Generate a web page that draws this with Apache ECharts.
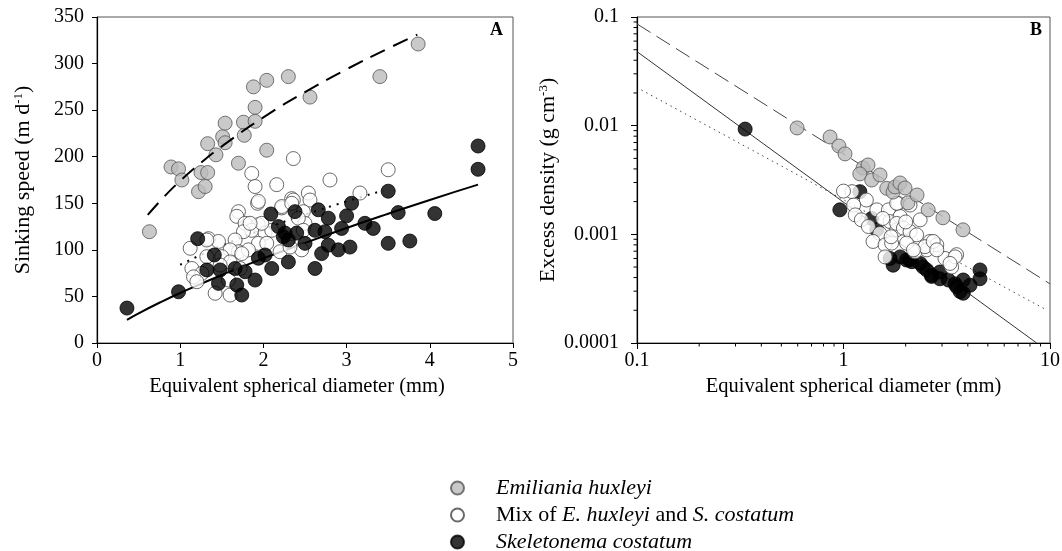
<!DOCTYPE html>
<html><head><meta charset="utf-8">
<script src="https://cdn.jsdelivr.net/npm/echarts@6/dist/echarts.min.js"></script>
<style>html,body{margin:0;padding:0;background:#fff}#c{width:1062px;height:551px}</style>
</head><body><div id="c"></div>
<script>
// ---------- DATA ----------
const seriesNames = ['Emiliania huxleyi', 'Mix of E. huxleyi and S. costatum', 'Skeletonema costatum'];

// Panel A: ESD (mm) vs sinking speed (m d-1)
const ehuxA = [[0.63,119.5],[0.89,189],[0.98,187],[1.02,175],[1.22,162.5],[1.30,168],[1.25,183],[1.33,183],[1.33,214],[1.43,202],[1.51,221.5],[1.54,215],[1.54,236],[1.70,193],[1.76,237],[1.77,223],[1.88,275],[1.90,253],[1.90,238],[2.04,282],[2.04,207],[2.30,286],[2.56,264],[3.40,286],[3.86,321]];
const mixA = [[1.86,182],[1.90,168],[2.16,170],[2.36,198],[1.93,150],[1.70,141],[1.68,136],[2.22,145],[2.34,155],[1.78,128.5],[1.94,127],[1.86,121],[1.76,119.5],[2.02,118],[1.34,112],[1.46,109],[1.12,101.7],[1.66,110.6],[1.94,107],[1.70,98],[1.60,100],[1.82,100],[1.50,92.7],[2.20,98],[1.14,80],[1.26,74.8],[1.16,71],[1.58,67.6],[1.42,53.4],[1.60,51.5],[1.32,92.7],[3.50,186],[2.80,175],[3.16,161],[2.54,161],[2.36,153.5],[2.56,153.5],[2.48,141],[2.50,128.5],[2.46,100],[1.94,152],[2.22,146.5],[2.34,150],[2.42,134],[2.48,121],[2.10,121],[1.98,128.5],[1.84,128.5],[2.04,107],[2.32,103],[1.74,96],[1.60,87],[1.48,83.7],[1.72,80],[1.20,65.8],[1.32,110.6]];
const skelA = [[0.36,37.5],[0.98,55],[1.21,112],[1.41,94.5],[1.32,78.4],[1.48,78.4],[1.66,80],[1.78,76.5],[1.46,64],[1.68,62.3],[1.90,67.6],[1.74,51.5],[1.94,91],[2.02,94.5],[2.10,80],[2.09,138.5],[2.24,114],[2.30,110.6],[2.30,87],[2.38,141],[2.50,107],[2.62,121],[2.62,80],[2.66,143],[2.70,96],[2.74,119.5],[2.78,134],[2.78,105],[2.90,100],[2.94,123],[3.00,136.5],[3.04,103],[3.06,150],[3.22,128.5],[3.32,123],[3.50,163],[3.50,107],[3.62,140],[3.76,109.5],[4.06,139],[4.58,211.5],[4.58,186.5],[2.18,125],[2.40,118],[2.26,118]];
// fitted curves
const ehuxFitA = [[0.61,137.5],[0.8,156.4],[1.0,174],[1.25,193.5],[1.5,211.1],[2.0,242.2],[2.5,269.4],[3.0,293.9],[3.5,316.3],[3.85,331]];
const mixFitA = [[1.0,84],[1.5,104.6],[2.0,122.1],[2.5,137.8],[3.0,152],[3.44,163.7]];
const skelFitA = [[0.36,24.8],[0.5,31.8],[0.75,43.2],[1.0,53.7],[1.5,73.0],[2.0,90.8],[2.5,107.5],[3.0,123.5],[3.5,138.8],[4.0,153.6],[4.58,170]];

// Panel B: ESD (mm) vs excess density (g cm-3), log-log
const ehuxB = [[0.596,0.00953],[0.861,0.00787],[0.950,0.0065],[1.017,0.0055],[1.243,0.00408],[1.314,0.00435],[1.20,0.0036],[1.37,0.00316],[1.502,0.00352],[1.62,0.00265],[1.738,0.00245],[1.776,0.00273],[1.878,0.00297],[1.986,0.00267],[2.05,0.00195],[2.27,0.0023],[2.57,0.00168],[3.03,0.00142],[3.79,0.0011]];
const mixB = [[1.10,0.00247],[1.29,0.00207],[1.12,0.00186],[1.14,0.00151],[1.22,0.00136],[1.32,0.00118],[1.45,0.00168],[1.65,0.00168],[1.84,0.00193],[1.68,0.00131],[1.50,0.00102],[1.39,0.00086],[1.59,0.0008],[1.59,0.00062],[1.81,0.0011],[1.88,0.00146],[1.81,0.00193],[2.10,0.00186],[2.35,0.00136],[1.81,0.00126],[1.95,0.00114],[2.10,0.00106],[2.26,0.00099],[2.62,0.00086],[2.83,0.0008],[2.53,0.00072],[2.22,0.00069],[3.10,0.0006],[3.53,0.00065],[3.34,0.0005],[2.02,0.00083],[1.71,0.00083],[3.47,0.00062],[3.28,0.00054],[2.48,0.00077],[2.72,0.00086],[2.83,0.00072],[2.18,0.00072],[1.00,0.0025],[1.55,0.0014],[2.00,0.0013],[1.70,0.00095]];
const skelB = [[0.334,0.0093],[0.96,0.00168],[1.20,0.00247],[1.37,0.0014],[1.45,0.0011],[1.74,0.00052],[1.88,0.00062],[2.14,0.00056],[2.67,0.00042],[2.93,0.00039],[3.47,0.00035],[3.67,0.000297],[4.10,0.00034],[4.58,0.00047],[4.58,0.00039],[2.53,0.00047],[1.68,0.0006],[2.02,0.00058],[2.35,0.00054],[3.80,0.00038],[2.67,0.00041],[2.93,0.00045],[3.53,0.00033],[3.80,0.000287],[3.22,0.00038],[2.43,0.0005],[2.09,0.00058]];
const ehuxFitB = [[0.1,0.0863],[10,0.00035]];
const mixFitB = [[0.105,0.0213],[9.64,0.000201]];
const skelFitB = [[0.1,0.048],[8.62,0.0001]];

// tick labels / minor ticks
const xTicksA = [0,1,2,3,4,5];
const yTicksA = [0,50,100,150,200,250,300,350];
const xTickLabelsB = ['0.1','1','10'];
const yTickLabelsB = ['0.0001','0.001','0.01','0.1'];
const xMinorB = [0.2,0.3,0.4,0.5,0.6,0.7,0.8,0.9,2,3,4,5,6,7,8,9];
const yMinorB = [0.0002,0.0003,0.0004,0.0005,0.0006,0.0007,0.0008,0.0009,0.002,0.003,0.004,0.005,0.006,0.007,0.008,0.009,0.02,0.03,0.04,0.05,0.06,0.07,0.08,0.09];

// ---------- CHART ----------
const FONT = 'Liberation Serif';
const styles = [
  {color:'#bcbcbc', borderColor:'#555', borderWidth:1},
  {color:'#ffffff', borderColor:'#444', borderWidth:1},
  {color:'#000000', borderColor:'#000', borderWidth:1}
];
const richName = {n:{fontFamily:FONT, fontSize:22, color:'#000'}, s:{fontFamily:FONT, fontSize:13, color:'#000', verticalAlign:'top', lineHeight:13}};
const axisCommon = {
  axisLine:{show:true, onZero:false, lineStyle:{color:'#000', width:1.2}},
  axisTick:{show:true, inside:false, length:5, lineStyle:{color:'#000'}},
  splitLine:{show:false},
  axisLabel:{color:'#000', fontFamily:FONT, fontSize:20}
};
function ax(o){ return Object.assign({}, JSON.parse(JSON.stringify(axisCommon)), o); }

function scatter(name, data, idx, si, z){
  return {type:'scatter', name, data, xAxisIndex:idx, yAxisIndex:idx, symbol:'circle', symbolSize:14,
    itemStyle:styles[si], z, emphasis:{disabled:true}};
}
function fit(data, idx, ls, z, smooth){
  return {type:'line', data, xAxisIndex:idx, yAxisIndex:idx, showSymbol:false, symbol:'none', smooth:smooth,
    lineStyle:ls, z, silent:true, legendHoverLink:false, emphasis:{disabled:true}};
}
function minorTicks(values, isX){
  return {type:'custom', xAxisIndex:1, yAxisIndex:1, silent:true, clip:false, z:5,
    data: values.map(v => isX ? [v, 0.0001] : [0.1, v]),
    renderItem:function(params, api){
      const p = api.coord([api.value(0), api.value(1)]);
      const s = isX ? {x1:p[0], y1:p[1], x2:p[0], y2:p[1]+3.5} : {x1:p[0]-3.5, y1:p[1], x2:p[0], y2:p[1]};
      return {type:'line', shape:s, style:{stroke:'#000', lineWidth:1}};
    }};
}

const chart = echarts.init(document.getElementById('c'), null, {renderer:'canvas'});
chart.setOption({
  animation:false,
  backgroundColor:'#fff',
  title:[
    {text:'A', left:490, top:21, padding:0, textStyle:{fontFamily:FONT, fontWeight:'bold', fontSize:18, color:'#000'}},
    {text:'B', left:1030, top:21, padding:0, textStyle:{fontFamily:FONT, fontWeight:'bold', fontSize:18, color:'#000'}}
  ],
  grid:[
    {left:97, top:17, width:416, height:326, show:true, borderColor:'#555', borderWidth:1, containLabel:false, outerBoundsMode:'none'},
    {left:637, top:17, width:413, height:326, show:true, borderColor:'#555', borderWidth:1, containLabel:false, outerBoundsMode:'none'}
  ],
  xAxis:[
    ax({type:'value', gridIndex:0, min:xTicksA[0], max:xTicksA[xTicksA.length-1], interval:1,
      name:'Equivalent spherical diameter (mm)', nameLocation:'middle', nameGap:28,
      nameTextStyle:{color:'#000', fontFamily:FONT, fontSize:20.5, padding:[0,16,0,0]}}),
    ax({type:'log', logBase:10, gridIndex:1, min:0.1, max:10,
      name:'Equivalent spherical diameter (mm)', nameLocation:'middle', nameGap:28,
      nameTextStyle:{color:'#000', fontFamily:FONT, fontSize:20.5, padding:[0,0,0,20]},
      axisTick:{show:true, length:6, lineStyle:{color:'#000'}},
      axisLabel:{color:'#000', fontFamily:FONT, fontSize:20,
        formatter:function(v){ return xTickLabelsB[Math.round(Math.log10(v))+1]; }}})
  ],
  yAxis:[
    ax({type:'value', gridIndex:0, min:yTicksA[0], max:yTicksA[yTicksA.length-1], interval:50,
      name:'{n|Sinking speed (m d}{s|-1}{n|)}', nameLocation:'middle', nameGap:63, nameRotate:90,
      nameTextStyle:{color:'#000', fontFamily:FONT, fontSize:22, rich:richName},
      axisLabel:{color:'#000', fontFamily:FONT, fontSize:20, margin:13}}),
    ax({type:'log', logBase:10, gridIndex:1, min:0.0001, max:0.1,
      name:'{n|Excess density (g cm}{s|-3}{n|)}', nameLocation:'middle', nameGap:78, nameRotate:90,
      nameTextStyle:{color:'#000', fontFamily:FONT, fontSize:22, rich:richName},
      axisTick:{show:true, length:6, lineStyle:{color:'#000'}},
      axisLabel:{color:'#000', fontFamily:FONT, fontSize:20, margin:18,
        formatter:function(v){ return yTickLabelsB[Math.round(Math.log10(v))+4]; }}})
  ],
  legend:{
    data:seriesNames, orient:'vertical', left:450, top:476.5, width:500, height:120, padding:0,
    itemWidth:13, itemHeight:13, itemGap:4, selectedMode:false,
    formatter:function(name){
      if(name===seriesNames[0]) return '{sp| }{i|Emiliania huxleyi}';
      if(name===seriesNames[1]) return '{sp| }{n|Mix of }{i|E. huxleyi}{n| and }{i|S. costatum}';
      return '{sp| }{i|Skeletonema costatum}';
    },
    textStyle:{fontFamily:FONT, fontSize:22, color:'#000', lineHeight:23,
      rich:{sp:{width:27, fontSize:22, lineHeight:23}, n:{fontFamily:FONT, fontSize:22, color:'#000', lineHeight:23}, i:{fontFamily:FONT, fontSize:22, fontStyle:'italic', color:'#000', lineHeight:23}}}
  },
  series:[
    fit(mixFitA, 0, {color:'#000', width:2, type:[2,6]}, 1, true),
    fit(skelFitA, 0, {color:'#000', width:2, type:'solid'}, 1, true),
    scatter(seriesNames[0], ehuxA, 0, 0, 2),
    scatter(seriesNames[1], mixA, 0, 1, 2),
    scatter(seriesNames[2], skelA, 0, 2, 2),
    fit(ehuxFitA, 0, {color:'#000', width:2, type:[16,9]}, 3, true),

    fit(ehuxFitB, 1, {color:'#444', width:1, type:[16,7]}, 1, false),
    fit(mixFitB, 1, {color:'#444', width:1, type:[1.5,4]}, 1, false),
    fit(skelFitB, 1, {color:'#333', width:1, type:'solid'}, 1, false),
    scatter(seriesNames[2], skelB, 1, 2, 2),
    scatter(seriesNames[1], mixB, 1, 1, 2),
    scatter(seriesNames[0], ehuxB, 1, 0, 2),
    minorTicks(xMinorB, true),
    minorTicks(yMinorB, false)
  ]
});
</script>
</body></html>
